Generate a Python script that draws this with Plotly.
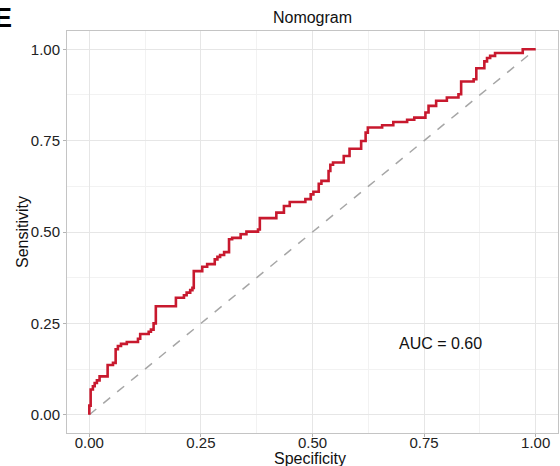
import plotly.graph_objects as go

# ROC staircase (right end of each horizontal run, and its height)
fpr = [0.0, 0.003, 0.008, 0.012, 0.017, 0.023, 0.041, 0.053, 0.059, 0.064, 0.071,
       0.084, 0.109, 0.114, 0.133, 0.138, 0.144, 0.149, 0.194, 0.212, 0.218,
       0.226, 0.231, 0.234, 0.253, 0.264, 0.281, 0.287, 0.293, 0.302, 0.313,
       0.320, 0.339, 0.352, 0.378, 0.382, 0.419, 0.436, 0.449, 0.484, 0.496,
       0.502, 0.514, 0.520, 0.536, 0.540, 0.546, 0.570, 0.583, 0.609, 0.619,
       0.624, 0.656, 0.681, 0.712, 0.728, 0.753, 0.760, 0.777, 0.801, 0.827,
       0.833, 0.861, 0.867, 0.885, 0.891, 0.898, 0.909, 0.971, 1.0]
tpr = [0.0, 0.025, 0.069, 0.078, 0.087, 0.094, 0.105, 0.136, 0.142, 0.179, 0.188,
       0.194, 0.199, 0.208, 0.221, 0.227, 0.233, 0.250, 0.297, 0.320, 0.327,
       0.334, 0.341, 0.347, 0.393, 0.405, 0.412, 0.425, 0.432, 0.437, 0.445,
       0.480, 0.484, 0.494, 0.501, 0.507, 0.538, 0.553, 0.571, 0.582, 0.590,
       0.603, 0.610, 0.632, 0.640, 0.667, 0.684, 0.690, 0.708, 0.728, 0.749,
       0.772, 0.786, 0.792, 0.801, 0.807, 0.813, 0.827, 0.845, 0.859, 0.868,
       0.877, 0.912, 0.918, 0.948, 0.967, 0.976, 0.982, 0.990, 1.0]
diag = [0.0, 1.0]
tick_vals = [0.0, 0.25, 0.5, 0.75, 1.0]
tick_text = ["0.00", "0.25", "0.50", "0.75", "1.00"]
auc_label = "AUC = 0.60"

FONT = "Liberation Sans, Arial, sans-serif"
W, H = 560, 466
L, R, T, B = 67, 2, 31, 33
PW, PH = W - L - R, H - T - B


def px_x(px):
    return (px - L) / PW


def px_y(py):
    return (H - B - py) / PH


fig = go.Figure()
fig.add_trace(go.Scatter(x=diag, y=diag, mode="lines",
                         line=dict(color="#A6A6A6", width=1.5, dash="dash"),
                         showlegend=False, hoverinfo="skip"))
fig.add_trace(go.Scatter(x=fpr, y=tpr, mode="lines",
                         line=dict(color="#C8192E", width=2.6, shape="vh"),
                         showlegend=False))

axis_common = dict(
    range=[-0.05, 1.05], tickvals=tick_vals, ticktext=tick_text,
    automargin=False,
    showgrid=True, gridcolor="#E6E6E6", gridwidth=1,
    minor=dict(tickvals=[0.125, 0.375, 0.625, 0.875], showgrid=True,
               gridcolor="#F2F2F2", gridwidth=1, ticks=""),
    zeroline=False, showline=True, mirror=True, linecolor="#C4C4C4", linewidth=1,
    ticks="outside", ticklen=3, tickcolor="#B3B3B3", tickwidth=1,
    tickfont=dict(family=FONT, size=15, color="#222222"),
)

fig.update_layout(
    width=W, height=H,
    margin=dict(l=L, r=R, t=T, b=B),
    paper_bgcolor="white", plot_bgcolor="white",
    font=dict(family=FONT, color="#111111"),
    title=dict(text="Nomogram", x=(67 + 558) / 2 / W, xanchor="center",
               y=1 - 17 / H, yanchor="middle", automargin=False,
               font=dict(family=FONT, size=16, color="#111111")),
    xaxis=dict(**axis_common, ticklabelstandoff=-7),
    yaxis=dict(**axis_common),
    annotations=[
        dict(x=0.786, y=0.196, xref="x", yref="y", text=auc_label, showarrow=False,
             xanchor="center", yanchor="middle",
             font=dict(family=FONT, size=16, color="#111111")),
        dict(x=px_x(310), y=px_y(458), xref="paper", yref="paper", text="Specificity",
             showarrow=False, xanchor="center", yanchor="middle",
             font=dict(family=FONT, size=16, color="#111111")),
        dict(x=px_x(22), y=px_y(232), xref="paper", yref="paper", text="Sensitivity",
             showarrow=False, xanchor="center", yanchor="middle", textangle=-90,
             font=dict(family=FONT, size=16, color="#111111")),
        dict(x=px_x(-8), y=px_y(18), xref="paper", yref="paper", text="<b>E</b>",
             showarrow=False, xanchor="left", yanchor="middle",
             font=dict(family=FONT, size=27, color="#000000")),
    ],
)

fig.write_html("out.html",
               config={"displayModeBar": False},
               post_script="document.body.style.margin='0';"
                           "document.body.style.overflow='hidden';")
